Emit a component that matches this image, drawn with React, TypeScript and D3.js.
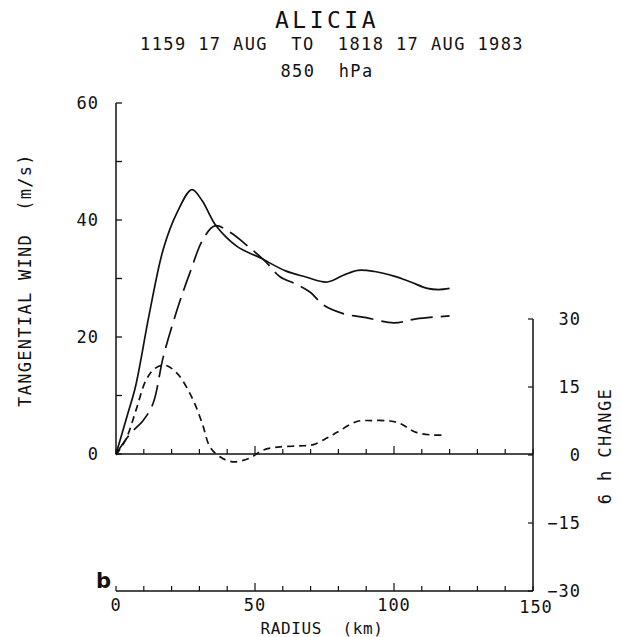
import React from "react";
import * as d3 from "d3";

const solidR = [0, 4, 7, 12, 17, 22, 27.3, 31, 36, 43.5, 52, 61, 68, 76, 82, 87, 93, 100, 106, 112, 116, 120];
const solidV = [0, 6.5, 11.5, 24, 35, 41.3, 45.2, 43.3, 39, 35.5, 33.5, 31.3, 30.3, 29.4, 30.6, 31.4, 31.2, 30.4, 29.4, 28.3, 28.1, 28.3];

const longR = [0, 5, 9.7, 13.3, 17, 22, 26.6, 31.3, 35.6, 41, 48, 54, 59, 65, 70, 74.5, 81.7, 90, 100, 108, 120];
const longV = [0, 3.4, 5.7, 8.6, 16.6, 24.7, 31, 36.7, 39, 37.9, 35.3, 32.8, 30.3, 29, 27.6, 25.5, 24, 23.3, 22.4, 23.1, 23.6];

const changeR = [0, 3.6, 7.2, 10.8, 14, 17.6, 22, 27.3, 31, 33.8, 37.4, 42, 48, 53, 59, 66, 71, 76, 79.5, 86.7, 92, 98.6, 102, 108, 114, 118];
const changeV = [0, 3.5, 9.9, 16.5, 19.1, 19.8, 18, 12.7, 7, 1.8, -0.4, -1.5, -0.7, 1.1, 1.8, 2.0, 2.3, 3.8, 5, 7.4, 7.6, 7.5, 7, 5, 4.4, 4.4];

const xTicks = [0, 10, 20, 30, 40, 50, 60, 70, 80, 90, 100, 110, 120, 130, 140, 150];
const xTickLabels = [0, 50, 100, 150];
const leftTicks = [0, 10, 20, 30, 40, 50, 60];
const leftTickLabels = [0, 20, 40, 60];
const rightTicks = [-30, -15, 0, 15, 30];

const title = "ALICIA";
const subtitle = "1159 17 AUG  TO  1818 17 AUG 1983";
const level = "850  hPa";
const yLeftLabel = "TANGENTIAL WIND  (m/s)";
const yRightLabel = "6 h CHANGE";
const xLabel = "RADIUS  (km)";

const FONT = "'DejaVu Sans Mono', monospace";
const INK = "#111";

export default function App() {
  const x = d3.scaleLinear().domain([0, 150]).range([116, 533]);
  const yL = d3.scaleLinear().domain([0, 60]).range([454, 103]);
  const yR = d3.scaleLinear().domain([-30, 30]).range([591, 319]);

  const lineL = d3
    .line<[number, number]>()
    .x((d) => x(d[0]))
    .y((d) => yL(d[1]))
    .curve(d3.curveCatmullRom.alpha(0.5));
  const lineR = d3
    .line<[number, number]>()
    .x((d) => x(d[0]))
    .y((d) => yR(d[1]))
    .curve(d3.curveCatmullRom.alpha(0.5));

  const solid = solidR.map((r, i) => [r, solidV[i]] as [number, number]);
  const longD = longR.map((r, i) => [r, longV[i]] as [number, number]);
  const change = changeR.map((r, i) => [r, changeV[i]] as [number, number]);

  const zeroY = yL(0);
  const bottomY = yR(-30);

  return (
    <svg
      width={621}
      height={637}
      style={{ position: "fixed", left: 0, top: 0, background: "#fff" }}
      fontFamily={FONT}
    >
      <rect x={0} y={0} width={621} height={637} fill="#fff" />
      {/* Titles */}
      <text x={327} y={28} textAnchor="middle" fontSize={23} letterSpacing={3.5} fill={INK}>
        {title}
      </text>
      <text x={332} y={50} textAnchor="middle" fontSize={17} letterSpacing={1.4} fill={INK} style={{ whiteSpace: "pre" }}>
        {subtitle}
      </text>
      <text x={327} y={77} textAnchor="middle" fontSize={17} letterSpacing={1.4} fill={INK} style={{ whiteSpace: "pre" }}>
        {level}
      </text>

      {/* Left axis */}
      <line x1={x(0)} x2={x(0)} y1={yL(60)} y2={yL(0)} stroke={INK} strokeWidth={1.5} />
      {leftTicks.map((t) => (
        <line key={"lt" + t} x1={x(0)} x2={x(0) + 6} y1={yL(t)} y2={yL(t)} stroke={INK} strokeWidth={1.3} />
      ))}
      {leftTickLabels.map((t) => (
        <text key={"ll" + t} x={99} y={yL(t)} dy="0.36em" textAnchor="end" fontSize={17} letterSpacing={1} fill={INK}>
          {t}
        </text>
      ))}
      <text
        transform={`translate(31,${280}) rotate(-90)`}
        textAnchor="middle"
        fontSize={17}
        letterSpacing={1.3}
        fill={INK}
        style={{ whiteSpace: "pre" }}
      >
        {yLeftLabel}
      </text>

      {/* Zero line */}
      <line x1={x(0)} x2={x(150)} y1={zeroY} y2={zeroY} stroke={INK} strokeWidth={1.5} />
      {xTicks.map((t) => (
        <line
          key={"zt" + t}
          x1={x(t)}
          x2={x(t)}
          y1={zeroY}
          y2={zeroY - (t % 50 === 0 && t > 0 && t < 150 ? 8 : 5)}
          stroke={INK}
          strokeWidth={1.2}
        />
      ))}

      {/* Bottom axis */}
      <line x1={x(0)} x2={x(150)} y1={bottomY} y2={bottomY} stroke={INK} strokeWidth={1.5} />
      {xTicks.map((t) => (
        <line
          key={"bt" + t}
          x1={x(t)}
          x2={x(t)}
          y1={bottomY}
          y2={bottomY - (t % 50 === 0 && t > 0 && t < 150 ? 8 : 5)}
          stroke={INK}
          strokeWidth={1.2}
        />
      ))}
      {xTickLabels.map((t) => (
        <text
          key={"xl" + t}
          x={t === 150 ? x(t) + 3 : x(t)}
          y={t === 150 ? 613 : 611}
          textAnchor="middle"
          fontSize={17}
          letterSpacing={1}
          fill={INK}
        >
          {t}
        </text>
      ))}
      <text x={322} y={634} textAnchor="middle" fontSize={16} letterSpacing={0.6} fill={INK} style={{ whiteSpace: "pre" }}>
        {xLabel}
      </text>
      <text x={96} y={588} fontSize={21} fontWeight="bold" fontFamily="'DejaVu Sans', sans-serif" fill={INK}>
        b
      </text>

      {/* Right axis */}
      <line x1={x(150)} x2={x(150)} y1={yR(30)} y2={yR(-30)} stroke={INK} strokeWidth={1.5} />
      {rightTicks.map((t) => (
        <line key={"rt" + t} x1={x(150)} x2={x(150) - 5} y1={yR(t)} y2={yR(t)} stroke={INK} strokeWidth={1.2} />
      ))}
      {rightTicks.map((t) => (
        <text key={"rl" + t} x={581} y={yR(t)} dy="0.36em" textAnchor="end" fontSize={17} letterSpacing={1} fill={INK}>
          {t < 0 ? "\u2212" + Math.abs(t) : t}
        </text>
      ))}
      <text
        transform={`translate(611,${446}) rotate(-90)`}
        textAnchor="middle"
        fontSize={17}
        letterSpacing={1.4}
        fill={INK}
        style={{ whiteSpace: "pre" }}
      >
        {yRightLabel}
      </text>

      {/* Curves */}
      <path d={lineL(solid) || ""} fill="none" stroke={INK} strokeWidth={1.7} />
      <path d={lineL(longD) || ""} fill="none" stroke={INK} strokeWidth={1.7} strokeDasharray="22,8" />
      <path d={lineR(change) || ""} fill="none" stroke={INK} strokeWidth={1.7} strokeDasharray="7,5" />
    </svg>
  );
}
